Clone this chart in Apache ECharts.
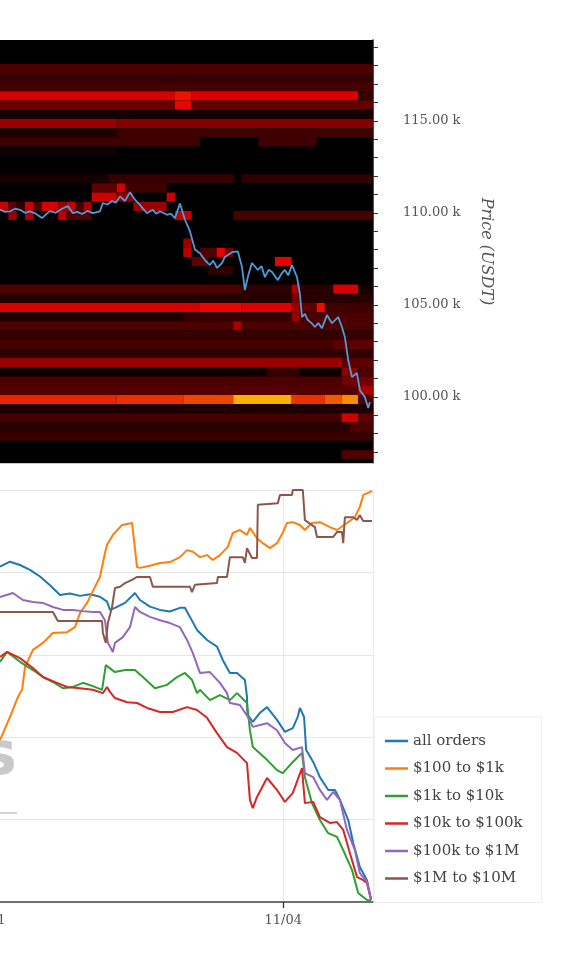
<!DOCTYPE html>
<html><head><meta charset="utf-8">
<script src="https://cdn.jsdelivr.net/npm/echarts@6/dist/echarts.min.js"></script>
<style>html,body{margin:0;padding:0;background:#fff}#c{width:563px;height:958px}</style>
</head><body><div id="c"></div>
<script>
// x values are hours since 11/01 00:00
const dateTicks = [0, 72];
const dateLabels = {0: '11/01', 72: '11/04'};
const priceTickValues = [97000,98000,99000,100000,101000,102000,103000,104000,105000,106000,107000,108000,109000,110000,111000,112000,113000,114000,115000,116000,117000,118000,119000];
const priceLabelValues = [100000, 105000, 110000, 115000];
const seriesNames = ['all orders', '$100 to $1k', '$1k to $10k', '$10k to $100k', '$100k to $1M', '$1M to $10M'];
const seriesColors = ['#1f77b4', '#ff7f0e', '#2ca02c', '#d62728', '#9467bd', '#8c564b'];
const hotColors = ['#000000','#4d0000','#990000','#e60000','#ee4600','#f78c00','#ffd200','#ffe040','#ffe980','#fff2bf','#ffffff'];

// heatmap: rows of 500 USDT (lower bound in k), segments [firstCol, lastCol, intensity]; column c covers hours 4+2c .. 6+2c
const heatRows = [
 [117.6, [[0,44,0.1]]],
 [117.1, [[0,44,0.07]]],
 [116.6, [[0,44,0.09]]],
 [116.1, [[0,20,0.28],[21,22,0.33],[23,42,0.29],[43,44,0.07]]],
 [115.6, [[0,20,0.14],[21,22,0.31],[23,44,0.13]]],
 [115.1, [[0,44,0.03]]],
 [114.6, [[0,13,0.2],[14,44,0.17]]],
 [114.1, [[0,13,0.04],[14,44,0.08]]],
 [113.6, [[0,23,0.08],[31,37,0.08]]],
 [113.1, [[0,13,0.02]]],
 [111.6, [[0,12,0.03],[13,27,0.07],[29,44,0.06]]],
 [111.1, [[11,13,0.12],[14,14,0.28],[15,19,0.08]]],
 [110.6, [[11,13,0.27],[14,15,0.18],[20,20,0.26]]],
 [110.1, [[0,0,0.26],[1,1,0.12],[2,2,0.06],[3,3,0.26],[4,4,0.1],[5,6,0.28],[7,7,0.2],[8,8,0.26],[9,9,0.08],[10,10,0.22],[16,19,0.2]]],
 [109.6, [[1,1,0.2],[3,3,0.22],[7,7,0.25],[8,10,0.1],[21,22,0.25],[28,44,0.09]]],
 [108.1, [[22,22,0.2]]],
 [107.6, [[22,22,0.25],[24,25,0.1],[26,26,0.3],[27,27,0.15]]],
 [107.1, [[23,24,0.12],[33,34,0.3]]],
 [106.6, [[25,27,0.06]]],
 [105.6, [[0,28,0.1],[29,34,0.06],[35,35,0.22],[36,39,0.05],[40,42,0.28],[43,44,0.03]]],
 [105.1, [[0,34,0.05],[35,35,0.15],[36,44,0.05]]],
 [104.6, [[0,23,0.28],[24,28,0.31],[29,34,0.29],[35,35,0.2],[36,37,0.12],[38,38,0.32],[39,44,0.08]]],
 [104.1, [[0,21,0.04],[22,34,0.07],[35,35,0.2],[36,44,0.1]]],
 [103.6, [[0,27,0.1],[28,28,0.22],[29,44,0.1]]],
 [103.1, [[0,44,0.07]]],
 [102.6, [[0,39,0.09],[40,44,0.12]]],
 [102.1, [[0,44,0.06]]],
 [101.6, [[0,40,0.2],[41,44,0.12]]],
 [101.1, [[0,31,0.02],[32,35,0.07],[36,40,0.02],[41,42,0.18],[43,44,0.1]]],
 [100.6, [[0,40,0.1],[41,44,0.15]]],
 [100.1, [[0,42,0.11],[43,44,0.22]]],
 [99.6, [[0,13,0.35],[14,21,0.37],[22,27,0.4],[28,34,0.55],[35,38,0.37],[39,40,0.43],[41,42,0.5],[43,44,0.1]]],
 [99.1, [[0,44,0.04]]],
 [98.6, [[0,40,0.09],[41,42,0.27],[43,44,0.12]]],
 [98.1, [[0,41,0.05],[42,44,0.1]]],
 [97.6, [[0,44,0.07]]],
 [96.6, [[41,44,0.1]]]
];

const priceLine = [[4.0,110180],[5.2,110050],[6.4,110080],[7.6,110220],[8.8,110160],[10.0,110000],[11.2,110080],[12.6,109950],[14.1,109710],[15.0,109900],[16.0,110090],[17.4,110000],[18.9,110220],[20.3,110360],[21.5,109980],[22.6,110050],[23.7,109930],[25.0,110100],[26.3,109980],[28.0,110080],[28.7,110530],[29.8,110450],[30.9,110640],[31.8,110550],[32.8,110890],[34.0,110640],[35.2,111120],[36.4,110710],[37.6,110430],[38.4,110200],[39.3,109980],[40.7,110160],[41.5,109950],[42.4,110080],[44.1,109890],[45.0,109950],[46.0,109710],[47.2,110500],[48.4,109620],[49.6,109000],[50.8,108000],[52.0,107800],[53.2,107430],[54.4,107160],[55.2,107400],[56.1,107000],[57.3,107270],[58.0,107600],[59.7,107860],[61.1,107900],[62.1,107050],[62.8,105800],[63.6,106600],[64.5,107270],[65.9,106890],[66.8,107100],[67.6,106500],[68.5,106900],[69.3,106780],[70.7,106340],[71.6,106700],[72.4,106890],[73.2,106600],[74.1,107160],[75.3,106500],[76.0,105600],[76.5,104330],[77.2,104500],[77.9,104170],[78.8,104000],[79.6,103790],[80.4,104000],[81.3,103730],[82.5,104440],[83.7,104000],[85.2,104330],[86.1,103790],[86.8,103240],[87.6,102000],[88.5,101070],[89.7,101290],[90.4,100360],[91.6,99980],[92.4,99390],[92.8,99700]];

const allOrders = [[4.0,81.4],[6.4,82.6],[8.8,81.8],[11.2,80.6],[13.6,79],[16.0,76.9],[18.4,74.5],[20.8,74.9],[23.2,74.3],[25.6,74.7],[28.0,74.1],[29.7,72.9],[30.4,70.9],[31.6,71.4],[34.0,72.6],[36.4,75],[37.6,73.3],[40.0,71.7],[42.4,70.9],[44.8,70.5],[47.2,71.4],[48.4,71.4],[49.6,69.2],[51.3,66],[53.7,63.6],[56.1,62],[57.5,58.7],[59.2,55.6],[60.9,55.6],[62.8,53.9],[63.3,49.8],[63.4,45.5],[64.7,43.7],[66.5,46],[68.1,47.3],[70.5,44.2],[72.4,41.3],[74.3,42.2],[75.5,45],[76.0,47.1],[77.0,44.9],[77.5,36.9],[79.2,34],[80.8,30.3],[82.8,27.2],[84.4,27.2],[85.6,24.8],[87.6,19.9],[88.8,14.3],[90.4,8.5],[92.1,5.3],[93.1,0.5]];
const usd100to1k = [[4.0,39.3],[6.4,44.9],[8.3,49.8],[9.3,51.5],[10.0,57],[11.9,61.2],[14.3,62.9],[16.7,65.3],[20.1,65.5],[22.0,66.7],[23.2,70.1],[24.9,72.6],[26.8,76.5],[28.0,78.9],[29.2,84.7],[29.7,86.7],[31.1,89.1],[33.3,91.5],[35.7,92],[35.9,92],[36.9,81.3],[37.6,81.1],[40.0,81.6],[42.4,82.3],[44.8,82.5],[47.2,83.7],[48.9,85.4],[50.3,85],[52.0,83.7],[53.7,84.2],[55.1,83],[56.8,84.2],[58.7,86.2],[59.9,89.6],[61.6,90.3],[63.3,89.1],[64.0,90.8],[65.7,88.3],[67.1,87.1],[68.8,85.9],[70.5,87.1],[71.9,89.6],[72.9,92],[74.3,92.2],[76.0,91.5],[77.2,90.3],[78.9,92],[80.8,92.2],[83.2,91],[84.9,90.3],[87.3,92],[89.2,93.4],[90.4,95.9],[91.2,98.8],[92.8,99.5],[93.3,99.8]];
const usd1kto10k = [[4.0,58.3],[5.7,60.7],[8.8,58.3],[11.9,56.3],[14.3,54.6],[16.7,53.4],[19.1,51.9],[21.5,52.2],[23.9,53.2],[26.3,52.4],[28.5,51.5],[29.4,57.5],[31.6,55.8],[34.0,56.3],[36.4,56.3],[38.3,54.6],[41.2,51.9],[44.1,52.7],[46.5,54.6],[48.4,55.6],[50.1,53.9],[51.3,50.7],[52.0,51.5],[54.4,49],[56.8,50.2],[59.2,49],[60.9,50.7],[63.3,48.3],[64.0,41.7],[64.7,37.6],[68.1,34.5],[70.5,32],[71.9,31.3],[74.3,34],[76.5,36.2],[77.2,30.3],[78.9,24],[80.8,19.9],[82.8,16.7],[84.9,15.8],[86.4,12.6],[88.5,7.8],[90.0,2.2],[91.2,1.2],[92.1,0.5],[93.1,0.3]];
const usd10kto100k = [[4.0,59.5],[5.7,60.7],[8.8,59.2],[11.9,56.8],[14.3,54.6],[17.7,53.2],[20.1,52.2],[23.2,51.9],[26.3,51.5],[28.7,50.7],[29.7,52.2],[30.4,51],[31.6,49.5],[34.5,48.5],[36.9,48.3],[39.3,47.1],[42.4,46.1],[45.5,46.1],[48.9,47.3],[51.3,46.6],[53.7,44.7],[56.1,41],[58.5,37.6],[60.9,36.2],[63.3,33.7],[64.0,24.8],[64.7,22.8],[65.7,25.5],[68.1,30.1],[70.5,27.2],[72.4,24.3],[74.3,26.5],[76.5,32.5],[77.2,24],[79.2,24.3],[80.8,20.6],[83.2,19.2],[84.9,19.4],[86.4,17.5],[88.0,11.9],[89.7,6.1],[91.2,5.3],[92.1,4.6],[93.1,0.5]];
const usd100kto1m = [[4.0,74],[7.1,75],[9.5,73.3],[11.9,72.8],[14.3,72.6],[16.7,71.6],[19.1,70.9],[21.5,70.9],[23.9,70.6],[26.3,70.4],[28.0,70.4],[29.2,68.4],[29.9,62.9],[31.1,60.7],[31.6,62.9],[33.5,64.3],[35.2,66.7],[36.4,71.6],[37.6,70.4],[40.0,69.2],[42.4,68.4],[44.8,67.7],[47.2,66.7],[48.9,63.6],[50.3,60.4],[52.0,55.6],[54.4,55.8],[56.8,53.2],[58.5,50.7],[59.2,48.3],[61.6,47.8],[63.5,44.9],[64.7,42.5],[68.1,43.4],[70.5,41.7],[72.4,38.6],[74.3,36.9],[76.5,37.6],[77.2,31.3],[79.2,30.3],[80.8,27.2],[82.5,24.8],[84.0,26.7],[85.6,24.8],[87.3,17.5],[89.2,12.6],[90.4,7],[92.1,4.9],[93.1,0.5]];
const usd1mto10m = [[4.0,70.4],[16.7,70.4],[17.9,68.2],[28.5,68.2],[28.7,65.3],[29.4,62.9],[29.9,67.7],[30.9,71.6],[31.6,76.2],[32.8,76.5],[34.0,77.4],[35.7,78.2],[36.9,78.9],[40.0,78.9],[40.7,76.5],[49.6,76.5],[50.1,75.2],[50.8,77.0],[56.1,77.4],[56.3,78.9],[58.5,78.9],[59.2,83.7],[62.3,83.7],[62.8,82.3],[63.3,85.9],[64.5,83.5],[65.7,83.5],[65.9,96.4],[70.7,96.8],[71.2,98.8],[74.1,98.8],[74.3,100],[76.7,100],[77.2,92.7],[79.6,91.0],[80.1,88.6],[84.0,88.6],[84.9,89.8],[86.1,89.8],[86.4,87.1],[86.8,93.4],[88.8,93.4],[89.7,92.7],[90.4,93.9],[91.2,92.5],[93.3,92.5]];
const lineSeriesData = [allOrders, usd100to1k, usd1kto10k, usd10kto100k, usd100kto1m, usd1mto10m];

// build heatmap segments
const heatData = [];
heatRows.forEach(function (row) {
  row[1].forEach(function (s) {
    heatData.push([4 + 2 * s[0], 6 + 2 * s[1], Math.round(row[0] * 1000), s[2]]);
  });
});

const FONT = 'DejaVu Serif';
const chart = echarts.init(document.getElementById('c'), null, {renderer: 'canvas'});

function renderCell(params, api) {
  const a = api.coord([api.value(0), api.value(2) + 500]);
  const b = api.coord([api.value(1), api.value(2)]);
  const cs = params.coordSys;
  const rect = echarts.graphic.clipRectByRect(
    {x: a[0], y: a[1], width: b[0] - a[0], height: b[1] - a[1]},
    {x: cs.x, y: cs.y, width: cs.width, height: cs.height});
  if (!rect) return null;
  return {type: 'rect', shape: rect, style: {fill: api.visual('color')}};
}

const option = {
  animation: false,
  backgroundColor: '#ffffff',
  textStyle: {fontFamily: FONT},
  grid: [
    {left: -16.66, right: 190, top: 40, height: 423, show: true, backgroundColor: '#000000', borderWidth: 0,
     containLabel: false, outerBoundsMode: 'none'},
    {left: -16.66, right: 190, top: 490, height: 412, show: false, containLabel: false, outerBoundsMode: 'none'}
  ],
  visualMap: {
    show: false, type: 'continuous', seriesIndex: 0, dimension: 3, min: 0, max: 1,
    inRange: {color: hotColors}
  },
  xAxis: [
    {gridIndex: 0, type: 'value', min: 0, max: 93.55,
     axisLine: {show: true, onZero: false, lineStyle: {color: '#c8c8c8', width: 1}},
     axisTick: {show: false}, axisLabel: {show: false}, splitLine: {show: false}},
    {gridIndex: 1, type: 'value', min: 0, max: 93.55, interval: 72,
     axisLine: {show: true, onZero: false, lineStyle: {color: '#444', width: 1.5}},
     axisTick: {show: true, length: 6, lineStyle: {color: '#333', width: 1.3}},
     axisLabel: {show: true, margin: 12, color: '#555', fontFamily: FONT, fontSize: 13,
       showMinLabel: true, showMaxLabel: false,
       formatter: function (v) { return v === 0 ? '{a|' + dateLabels[v] + '}' : (dateLabels[v] || ''); },
       rich: {a: {color: '#555', fontFamily: FONT, fontSize: 13, padding: [0, 0, 0, 7]}}},
     splitLine: {show: true, lineStyle: {color: '#e8e8e8', width: 1}}}
  ],
  yAxis: [
    {gridIndex: 0, type: 'value', position: 'right', min: 96400, max: 119390,
     axisLine: {show: true, onZero: false, lineStyle: {color: '#111', width: 1.5}},
     axisTick: {show: true, customValues: priceTickValues, length: 5, lineStyle: {color: '#333', width: 1}},
     axisLabel: {show: true, customValues: priceLabelValues, margin: 30, color: '#555', fontFamily: FONT, fontSize: 13,
       formatter: function (v) { return (v / 1000).toFixed(2) + ' k'; }},
     splitLine: {show: false},
     name: 'Price (USDT)', nameLocation: 'middle', nameRotate: -90, nameGap: 105,
     nameTextStyle: {fontFamily: FONT, fontStyle: 'italic', fontSize: 16, color: '#555'}},
    {gridIndex: 1, type: 'value', min: 0, max: 100, interval: 20,
     axisLine: {show: false}, axisTick: {show: false}, axisLabel: {show: false},
     splitLine: {show: true, lineStyle: {color: '#e6e6e6', width: 1}}},
    {gridIndex: 1, type: 'value', position: 'right', min: 0, max: 100,
     axisLine: {show: true, onZero: false, lineStyle: {color: '#ececec', width: 1}},
     axisTick: {show: false}, axisLabel: {show: false}, splitLine: {show: false}}
  ],
  legend: {
    orient: 'vertical', left: 374, top: 717,
    padding: [16, 19, 16, 11], itemGap: 11.5, itemWidth: 23, itemHeight: 2.5, icon: 'rect',
    borderColor: '#ececec', borderWidth: 1, backgroundColor: '#ffffff',
    textStyle: {fontFamily: FONT, fontSize: 15, color: '#444', lineHeight: 16},
    data: seriesNames
  },
  graphic: [
    {type: 'text', x: -19, y: 758.5, silent: true,
     style: {text: 's', font: 'bold 60px "DejaVu Sans"', fill: '#c9c9c9', verticalAlign: 'middle'}},
    {type: 'line', silent: true, shape: {x1: 0, y1: 813, x2: 17, y2: 813}, style: {stroke: '#d4d4d4', lineWidth: 2}}
  ],
  series: [
    {type: 'custom', name: 'heat', xAxisIndex: 0, yAxisIndex: 0, renderItem: renderCell,
     encode: {x: [0, 1], y: 2}, data: heatData, silent: true},
    {type: 'line', name: 'price', xAxisIndex: 0, yAxisIndex: 0, data: priceLine, showSymbol: false, symbol: 'none',
     lineStyle: {color: '#4f9ad8', width: 1.8}, itemStyle: {color: '#4f9ad8'}, z: 5}
  ].concat(seriesNames.map(function (name, i) {
    return {type: 'line', name: name, xAxisIndex: 1, yAxisIndex: 1, data: lineSeriesData[i],
      showSymbol: false, symbol: 'none', color: seriesColors[i],
      lineStyle: {color: seriesColors[i], width: 2}, itemStyle: {color: seriesColors[i]}};
  }))
};
chart.setOption(option);
</script></body></html>
